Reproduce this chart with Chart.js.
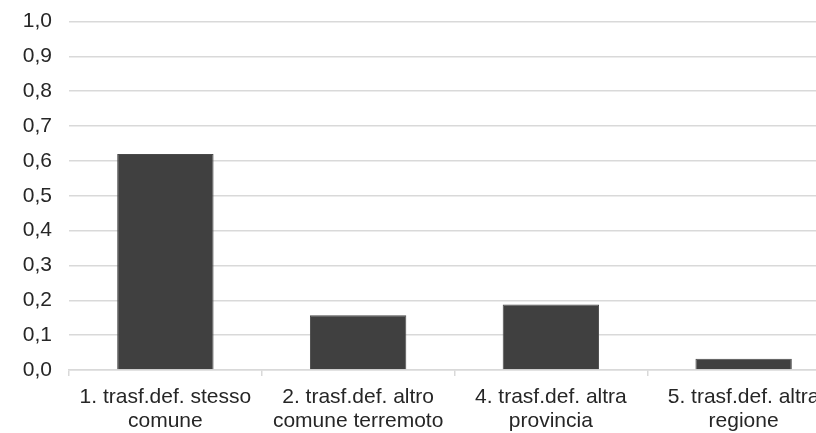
<!DOCTYPE html>
<html>
<head>
<meta charset="utf-8">
<script src="https://cdn.jsdelivr.net/npm/chart.js@4"></script>
<style>
    html, body { margin: 0; padding: 0; background: #fff; overflow: hidden; }
    #wrap { width: 840px; height: 433px; }
</style>
</head>
<body>
<div id="wrap"><canvas id="chart" width="840" height="433"></canvas></div>
<script>
let categorie = [
    ["1. trasf.def. stesso", "comune"],
    ["2. trasf.def. altro", "comune terremoto"],
    ["4. trasf.def. altra", "provincia"],
    ["5. trasf.def. altra", "regione"]
];
let valori = [0.62, 0.157, 0.188, 0.032];
let yMin = 0;
let yMax = 1;
let yStep = 0.1;

let grigio = "#d9d9d9";
let testo = "#262626";
let famiglia = "'Liberation Sans', Arial, sans-serif";

let ctx = document.getElementById("chart").getContext("2d");
let chart = new Chart(ctx, {
    type: "bar",
    data: {
        labels: categorie,
        datasets: [{
            data: valori,
            backgroundColor: "#404040",
            borderColor: "#4a4a4a",
            borderWidth: 1,
            categoryPercentage: 1,
            barPercentage: 0.5
        }]
    },
    options: {
        responsive: false,
        animation: false,
        layout: { padding: { top: 21.5, left: 0, right: 0, bottom: 0 } },
        plugins: {
            legend: { display: false },
            tooltip: { enabled: false }
        },
        scales: {
            y: {
                min: yMin,
                max: yMax,
                ticks: {
                    stepSize: yStep,
                    color: testo,
                    font: { family: famiglia, size: 21 },
                    padding: 17,
                    callback: v => v.toFixed(1).replace(".", ",")
                },
                grid: { color: grigio, lineWidth: 1.5, drawTicks: false },
                border: { display: false },
                afterFit: s => {
                    s.width = 69;
                    s.paddingTop = 0;
                    s.paddingBottom = 0;
                }
            },
            x: {
                ticks: {
                    color: testo,
                    font: { family: famiglia, size: 21, lineHeight: 1.14 },
                    maxRotation: 0,
                    autoSkip: false,
                    padding: 9
                },
                grid: {
                    color: grigio,
                    lineWidth: 1.5,
                    offset: true,
                    drawOnChartArea: false,
                    drawTicks: true,
                    tickLength: 6
                },
                border: { display: true, color: grigio, width: 1.5 },
                afterFit: s => {
                    s.height = 63;
                    s.paddingLeft = 0;
                    s.paddingRight = 0;
                }
            }
        }
    }
});
</script>
</body>
</html>
